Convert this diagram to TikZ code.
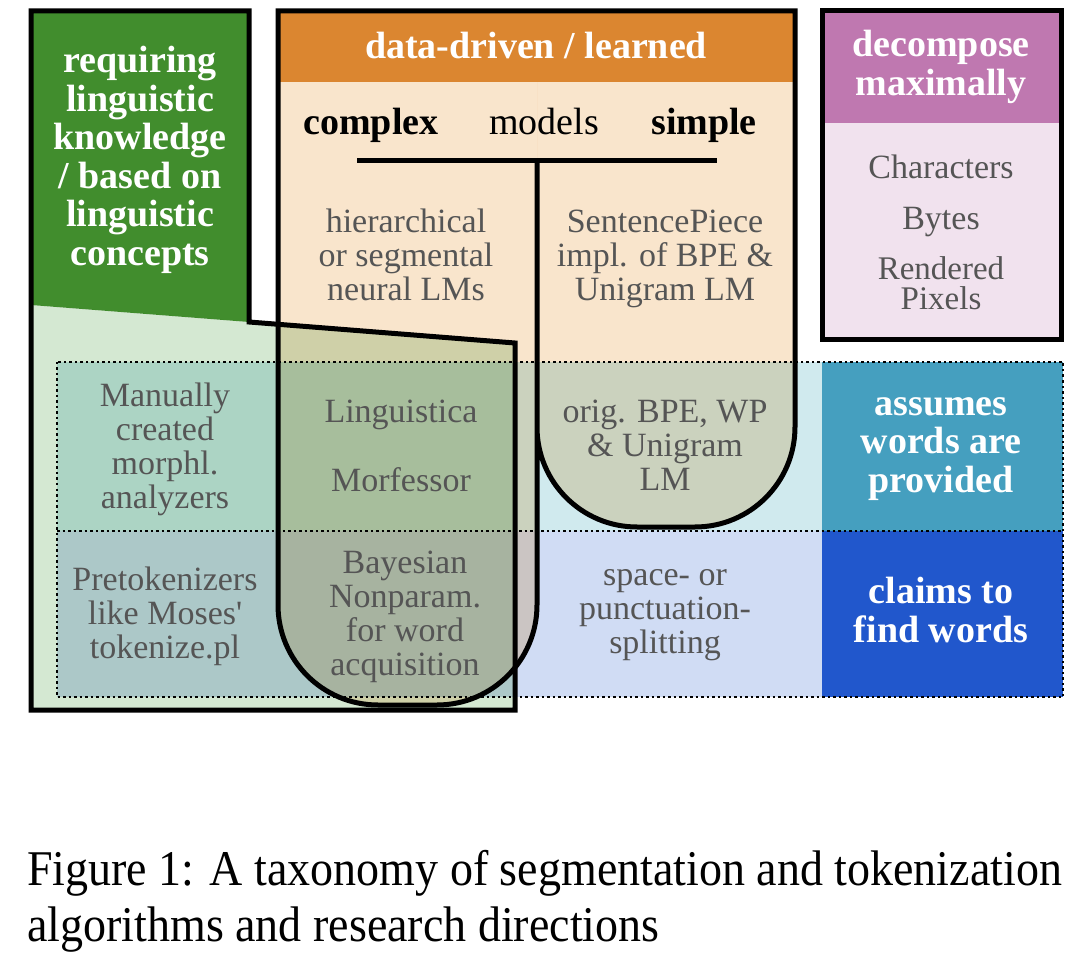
\documentclass[tikz,border=0pt]{standalone}
\usepackage{fontspec}
\setmainfont{Liberation Serif}
\newfontfamily\captionfont{Liberation Serif}[FakeStretch=0.92]
\newfontfamily\straightfont{Liberation Serif}[Ligatures=TeXOff]
\usetikzlibrary{positioning}

\definecolor{darkgreen}{HTML}{418D2D}
\definecolor{lightgreen}{HTML}{D4E8D2}
\definecolor{orangehead}{HTML}{DB8630}
\definecolor{peach}{HTML}{F9E5CC}
\definecolor{purplehead}{HTML}{BF78B0}
\definecolor{lightpurple}{HTML}{F1E2EE}
\definecolor{rowcyan}{HTML}{D0EAEE}
\definecolor{rowblue}{HTML}{D0DCF4}
\definecolor{tealcell}{HTML}{459FBF}
\definecolor{bluecell}{HTML}{2157CC}
\definecolor{greytext}{HTML}{555555}

\tikzset{
  bodytext/.style={text=greytext, align=center, inner sep=0pt, font=\fontsize{34}{34}\selectfont},
  headtext/.style={text=white, align=center, inner sep=0pt, font=\fontsize{38}{38.5}\selectfont\bfseries},
  axistext/.style={text=black, inner sep=0pt, anchor=base, font=\fontsize{38}{38.5}\selectfont},
  captext/.style={anchor=base west, inner sep=0pt, font=\captionfont\fontsize{50}{56}\selectfont},
  border/.style={draw=black, line width=5pt},
  gridline/.style={draw=black, line width=2.5pt, dash pattern=on 2.5pt off 3pt}
}

\begin{document}
\begin{tikzpicture}[x=1pt, y=-1pt]
    \fill[white] (0,0) rectangle (1080,976);
    \useasboundingbox (0,0) rectangle (1080,976);

    % rows of the grid
    \fill[rowcyan] (57,362) rectangle (1063,531);
    \fill[rowblue] (57,531) rectangle (1063,697);
    \fill[tealcell] (822,362) rectangle (1063,531);
    \fill[bluecell] (822,531) rectangle (1063,697);

    % linguistic knowledge box
    \fill[darkgreen] (31,11) -- (249,11) -- (249,322) -- (31,305) -- cycle;
    \begin{scope}[blend mode=multiply]
        \fill[lightgreen] (31,305) -- (249,322) -- (515,343) -- (515,710) -- (31,710) -- cycle;
        % data-driven box
        \fill[peach] (278,82) -- (278,605) arc[start angle=180, end angle=90, radius=100]
            -- (437,705) arc[start angle=90, end angle=0, radius=100] -- (537,82) -- cycle;
        \fill[peach] (537,82) -- (537,427) arc[start angle=180, end angle=90, radius=100]
            -- (695,527) arc[start angle=90, end angle=0, radius=100] -- (795,82) -- cycle;
    \end{scope}
    \fill[orangehead] (278,11) rectangle (795,82);

    % dotted grid
    \draw[gridline] (57,362) rectangle (1063,697);
    \draw[gridline] (57,531) -- (1063,531);

    % outlines
    \draw[border, line join=miter] (31,11) -- (249,11) -- (249,322) -- (515,343) -- (515,710) -- (31,710) -- cycle;
    \draw[border] (537,161) -- (537,605) arc[start angle=0, end angle=90, radius=100]
        -- (378,705) arc[start angle=90, end angle=180, radius=100] -- (278,11) -- (795,11)
        -- (795,427) arc[start angle=0, end angle=90, radius=100]
        -- (637,527) arc[start angle=90, end angle=180, radius=100] -- (537,427);
    \draw[border] (357,161) -- (717,161);

    % decompose box
    \fill[lightpurple] (822,11) rectangle (1061,340);
    \fill[purplehead] (822,11) rectangle (1061,123);
    \draw[border] (822,11) rectangle (1061,340);

    % headers
    \node[headtext] (ling) at (140,160) {requiring\\linguistic\\knowledge\\/ based on\\linguistic\\concepts};
    \node[headtext] (data) at (536,46) {data-driven / learned};
    \node[headtext] (decomp) at (941,67) {decompose\\maximally};
    \node[headtext] (assumes) at (941,449) {assumes\\words are\\provided};
    \node[headtext] (claims) at (941,610) {claims to\\find words};

    \node[axistext, font=\fontsize{38}{38.5}\selectfont\bfseries] (complex) at (371,135) {complex};
    \node[axistext] (models) at (544,135) {models};
    \node[axistext, font=\fontsize{38}{38.5}\selectfont\bfseries] (simple) at (704,135) {simple};

    % algorithms
    \node[bodytext] (hier) at (406,255) {hierarchical\\or segmental\\neural LMs};
    \node[bodytext] (spiece) at (665,259) {SentencePiece\\impl. of BPE \&\\Unigram LM};
    \node[bodytext] (chars) at (941,167) {Characters};
    \node[bodytext] (bytes) at (941,222) {Bytes};
    \node[bodytext, font=\fontsize{33}{30.5}\selectfont] (pixels) at (941,283) {Rendered\\Pixels};
    \node[bodytext] (manual) at (165,449) {Manually\\created\\morphl.\\analyzers};
    \node[bodytext] (lingu) at (401,415) {Linguistica};
    \node[bodytext] (morf) at (401,480) {Morfessor};
    \node[bodytext] (origbpe) at (665,445) {orig. BPE, WP\\\& Unigram\\LM};
    \node[bodytext] (pretok) at (165,616) {Pretokenizers\\like Moses{\straightfont '}\\tokenize.pl};
    \node[bodytext] (bayes) at (405,617) {Bayesian\\Nonparam.\\for word\\acquisition};
    \node[bodytext] (space) at (665,615) {space- or\\punctuation-\\splitting};

    % caption
    \node[captext] (cap1) at (27,885) {Figure 1: A taxonomy of segmentation and tokenization};
    \node[captext] (cap2) at (27,941) {algorithms and research directions};
\end{tikzpicture}
\end{document}
